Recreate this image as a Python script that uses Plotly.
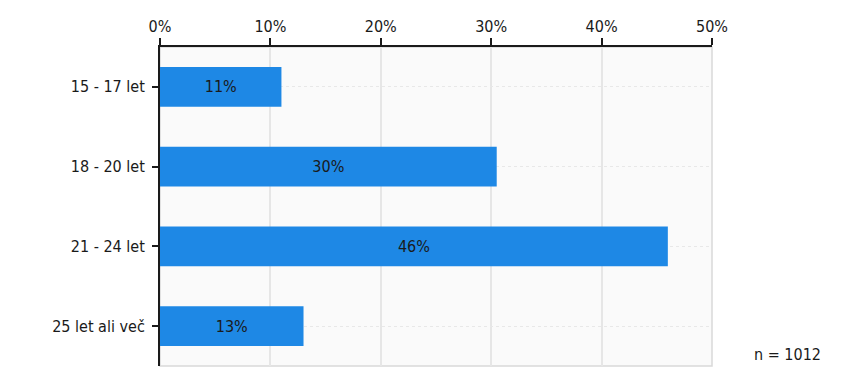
import plotly.graph_objects as go

categories = ["15 - 17 let", "18 - 20 let", "21 - 24 let", "25 let ali več"]
values = [11, 30.5, 46, 13]
labels = ["11%", "30%", "46%", "13%"]
tick_vals = [0, 10, 20, 30, 40, 50]
tick_text = ["0%", "10%", "20%", "30%", "40%", "50%"]
n_text = "n = 1012"

FONT = "DejaVu Sans Condensed, Liberation Sans, sans-serif"
FS = 16

fig = go.Figure()
fig.add_trace(go.Bar(
    y=categories, x=values, orientation="h",
    marker=dict(color="#1e88e5", line=dict(width=0)),
    width=0.5,
    text=labels, textposition="inside", insidetextanchor="middle",
    textfont=dict(family=FONT, size=FS, color="#1a1a1a"),
    hoverinfo="skip",
))

fig.add_shape(type="rect", xref="paper", yref="paper", x0=0, x1=1, y0=0, y1=1,
              line=dict(color="#d9d9d9", width=1.5), layer="below")

fig.add_annotation(text=n_text, xref="paper", yref="paper", x=1.072, y=0.0,
                   xanchor="left", yanchor="bottom", showarrow=False,
                   font=dict(family=FONT, size=FS, color="#1a1a1a"))

# the page body adds an 8px offset, so the figure is 8px smaller and margins shifted
fig.update_layout(
    width=839, height=377,
    margin=dict(l=152, r=135, t=39, b=19, autoexpand=False),
    paper_bgcolor="white", plot_bgcolor="#fafafa",
    showlegend=False,
    font=dict(family=FONT, size=FS, color="#1a1a1a"),
    xaxis=dict(
        side="top", range=[0, 50], tickvals=tick_vals, ticktext=tick_text,
        showline=True, linecolor="#1a1a1a", linewidth=2,
        ticks="outside", ticklen=7, tickcolor="#1a1a1a", tickwidth=2,
        showgrid=True, gridcolor="#e6e6e6", gridwidth=1.5,
        zeroline=False, fixedrange=True,
        tickfont=dict(family=FONT, size=FS, color="#1a1a1a"),
    ),
    yaxis=dict(
        autorange="reversed", categoryorder="array", categoryarray=categories,
        showline=True, linecolor="#1a1a1a", linewidth=2,
        ticks="outside", ticklen=6, tickcolor="#1a1a1a", tickwidth=2,
        showgrid=True, gridcolor="#e8e8e8", gridwidth=1, griddash="dot",
        ticklabelstandoff=4,
        tickfont=dict(family=FONT, size=FS, color="#1a1a1a"),
    ),
)

fig.write_html("out.html")
